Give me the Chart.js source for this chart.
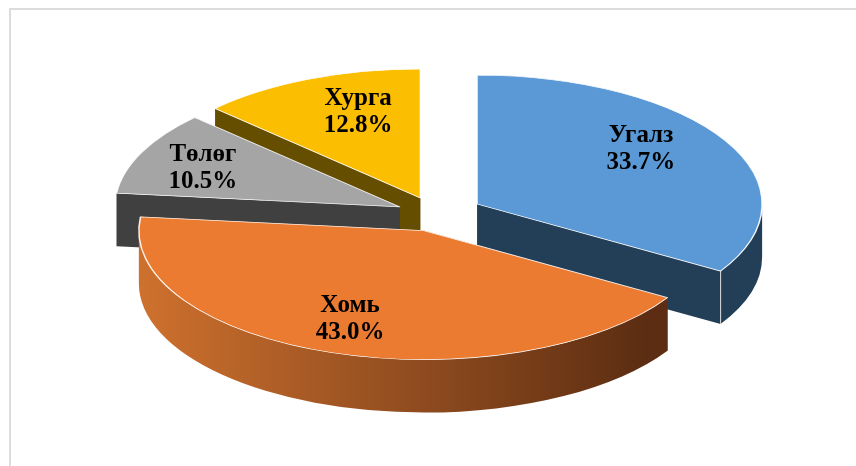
<!DOCTYPE html>
<html>
<head>
<meta charset="utf-8">
<title>Pie</title>
<script src="https://cdn.jsdelivr.net/npm/chart.js@4/dist/chart.umd.min.js"></script>
<style>
    html, body { margin: 0; padding: 0; background: #fff; overflow: hidden; }
    #frame { position: absolute; left: 9px; top: 8px; width: 860px; height: 470px; border: 2px solid #dcdcdc; }
    #chart { position: absolute; left: 0; top: 0; }
</style>
</head>
<body>
<div id="frame"></div>
<canvas id="chart" width="856" height="466"></canvas>
<script>
// Chart data
const categories = ['Угалз', 'Хомь', 'Төлөг', 'Хурга'];
const shares = [33.7, 43.0, 10.5, 12.8];

// Slice styles
const topColors = ['#5A99D6', '#EB7B31', '#A5A5A5', '#FCBE00'];
const sideColors = ['#233F58', null, '#404040', '#664E00'];
const explode = [21.3, 17, 18, 18];
const labelNudge = [[-15, -10], [-8, 0], [-11, 0], [18, -1]];

const widthScale = 2.21;   // pie is drawn round, then stretched sideways
const depth = 53;
const drawOrder = [3, 2, 0, 1];

// Moves the drawing context to an exploded slice
function moveToSlice(ctx, arc, index) {
    const mid = (arc.startAngle + arc.endAngle) / 2;
    ctx.translate(arc.x, 0);
    ctx.scale(widthScale, 1);
    ctx.translate(-arc.x, 0);
    ctx.translate(Math.cos(mid) * explode[index], Math.sin(mid) * explode[index]);
}

// Draws the side walls of one slice under its top face
function drawWalls(ctx, arc, index) {
    const r = arc.outerRadius;
    let fill = sideColors[index];
    if (!fill) {
        fill = ctx.createLinearGradient(arc.x - r, 0, arc.x + r * 0.78, 0);
        fill.addColorStop(0, '#CE712E');
        fill.addColorStop(1, '#5C2D12');
    }
    ctx.fillStyle = fill;

    // cut faces
    [arc.startAngle, arc.endAngle].forEach(angle => {
        const px = arc.x + Math.cos(angle) * r;
        const py = arc.y + Math.sin(angle) * r;
        ctx.beginPath();
        ctx.moveTo(arc.x, arc.y);
        ctx.lineTo(px, py);
        ctx.lineTo(px, py + depth);
        ctx.lineTo(arc.x, arc.y + depth);
        ctx.closePath();
        ctx.fill();
    });

    // outer rim, only the part facing the viewer
    const from = Math.max(arc.startAngle, 0);
    const to = Math.min(arc.endAngle, Math.PI);
    if (to > from) {
        ctx.beginPath();
        ctx.arc(arc.x, arc.y, r, from, to);
        ctx.lineTo(arc.x + Math.cos(to) * r, arc.y + Math.sin(to) * r + depth);
        ctx.arc(arc.x, arc.y + depth, r, to, from, true);
        ctx.closePath();
        ctx.fill();

        // light corner line where the rim meets the cut face
        if (arc.endAngle < Math.PI) {
            ctx.strokeStyle = 'rgba(235,235,235,0.8)';
            ctx.lineWidth = 0.5;
            ctx.beginPath();
            ctx.moveTo(arc.x + Math.cos(to) * r, arc.y + Math.sin(to) * r);
            ctx.lineTo(arc.x + Math.cos(to) * r, arc.y + Math.sin(to) * r + depth);
            ctx.stroke();
        }
    }
}

// Draws name and percentage on top of a slice
function drawLabel(ctx, arc, index) {
    const mid = (arc.startAngle + arc.endAngle) / 2;
    const radial = arc.outerRadius * 0.72;
    const x = arc.x + (Math.cos(mid) * (radial + explode[index])) * widthScale + labelNudge[index][0];
    const y = arc.y + Math.sin(mid) * (radial + explode[index]) + labelNudge[index][1];
    ctx.fillStyle = '#000';
    ctx.font = 'bold 25px "Liberation Serif"';
    ctx.textAlign = 'center';
    ctx.textBaseline = 'middle';
    ctx.fillText(categories[index], x, y - 13);
    ctx.fillText(shares[index].toFixed(1) + '%', x, y + 14);
}

// Plugin that paints the slices back to front as a 3D pie
const pie3d = {
    id: 'pie3d',
    beforeDatasetDraw(chart, args) {
        const ctx = chart.ctx;
        const arcs = args.meta.data;
        drawOrder.forEach(i => {
            ctx.save();
            moveToSlice(ctx, arcs[i], i);
            drawWalls(ctx, arcs[i], i);
            ctx.restore();
        });
        drawOrder.forEach(i => {
            ctx.save();
            moveToSlice(ctx, arcs[i], i);
            arcs[i].draw(ctx);
            ctx.restore();
        });
        drawOrder.forEach(i => drawLabel(ctx, arcs[i], i));
        return false;
    }
};

document.addEventListener('DOMContentLoaded', () => {
    new Chart(document.getElementById('chart').getContext('2d'), {
        type: 'pie',
        data: {
            labels: categories,
            datasets: [{
                data: shares,
                backgroundColor: topColors,
                borderColor: 'rgba(255,255,255,0.9)',
                borderWidth: 0.7,
                radius: 129,
                clip: false
            }]
        },
        options: {
            responsive: false,
            animation: false,
            layout: { padding: { left: 16, bottom: 37 } },
            plugins: { legend: { display: false }, tooltip: { enabled: false } }
        },
        plugins: [pie3d]
    });
});
</script>
</body>
</html>
